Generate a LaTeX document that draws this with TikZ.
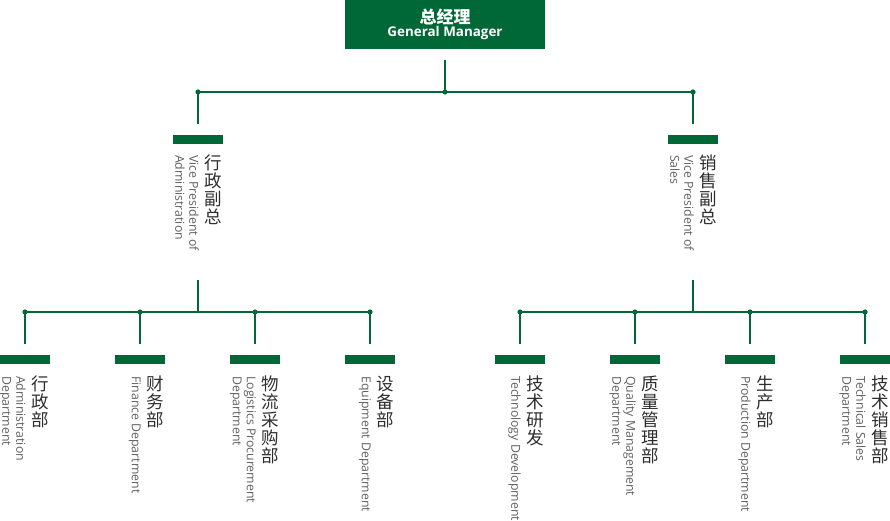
\documentclass[tikz,border=0pt]{standalone}
\usepackage{fontspec}
\setmainfont{Open Sans}
\newfontfamily\cjk{Noto Sans CJK SC}
\usetikzlibrary{positioning}
\definecolor{orggreen}{HTML}{006837}
\definecolor{cntext}{HTML}{2E2E2E}
\definecolor{entext}{HTML}{606060}

\begin{document}
\begin{tikzpicture}[x=1pt, y=-1pt,
   line/.style={orggreen, line width=1.3pt},
   head/.style={rectangle, fill=orggreen, minimum width=200, minimum height=49, inner sep=0, text=white, align=center},
   bar/.style={rectangle, fill=orggreen, minimum width=50, minimum height=9, inner sep=0},
   cn/.style={anchor=north, inner sep=0, align=center, text=cntext, font=\cjk\fontsize{17.5}{17.8}\selectfont},
   en/.style={anchor=north west, rotate=-90, inner sep=0, align=left, text=entext, font=\fontsize{12.3}{14}\selectfont}]
   \useasboundingbox (0,0) rectangle (890,521);

   % general manager
   \node (gm) at (445,24.5) [head] {{\cjk\bfseries\fontsize{17}{18}\selectfont 总经理}\\[0.5pt]{\bfseries\fontsize{13.4}{15}\selectfont General Manager}};

   % vice presidents
   \node (va) at (198,139.5) [bar] {};
   \node (vs) at (693,139.5) [bar] {};
   \node (vacn) at (213.5,155) [cn] {行\\政\\副\\总};
   \node (vaen) at (199,155) [en] {Vice President of\\Administration};
   \node (vscn) at (708.5,155) [cn] {销\\售\\副\\总};
   \node (vsen) at (694,155) [en] {Vice President of\\Sales};

   % departments
   \node (d1) at (25,359.5) [bar] {};
   \node (d2) at (140,359.5) [bar] {};
   \node (d3) at (255,359.5) [bar] {};
   \node (d4) at (370,359.5) [bar] {};
   \node (d5) at (520,359.5) [bar] {};
   \node (d6) at (635,359.5) [bar] {};
   \node (d7) at (750,359.5) [bar] {};
   \node (d8) at (865,359.5) [bar] {};

   \node (d1cn) at (40.5,376) [cn] {行\\政\\部};
   \node (d1en) at (26,376) [en] {Administration\\Department};
   \node (d2cn) at (155.5,376) [cn] {财\\务\\部};
   \node (d2en) at (141,376) [en] {Finance Department};
   \node (d3cn) at (270.5,376) [cn] {物\\流\\采\\购\\部};
   \node (d3en) at (256,376) [en] {Logistics Procurement\\Department};
   \node (d4cn) at (385.5,376) [cn] {设\\备\\部};
   \node (d4en) at (371,376) [en] {Equipment Department};
   \node (d5cn) at (535.5,376) [cn] {技\\术\\研\\发};
   \node (d5en) at (521,376) [en] {Technology Development};
   \node (d6cn) at (650.5,376) [cn] {质\\量\\管\\理\\部};
   \node (d6en) at (636,376) [en] {Quality Management\\Department};
   \node (d7cn) at (765.5,376) [cn] {生\\产\\部};
   \node (d7en) at (751,376) [en] {Production Department};
   \node (d8cn) at (880.5,376) [cn] {技\\术\\销\\售\\部};
   \node (d8en) at (866,376) [en] {Technical Sales\\Department};

   % junctions
   \coordinate (h0) at (445,92);
   \coordinate (ta) at (198,280);
   \coordinate (ts) at (693,280);
   \coordinate (ha) at (198,312);
   \coordinate (hs) at (693,312);

   \draw[line, shorten <=11] (gm) -- (h0);
   \draw[line, shorten >=11] (h0) -| (va);
   \draw[line, shorten >=11] (h0) -| (vs);

   \draw[line] (ta) -- (ha);
   \draw[line, shorten >=11] (ha) -| (d1);
   \draw[line, shorten >=11] (ha) -| (d2);
   \draw[line, shorten >=11] (ha) -| (d3);
   \draw[line, shorten >=11] (ha) -| (d4);

   \draw[line] (ts) -- (hs);
   \draw[line, shorten >=11] (hs) -| (d5);
   \draw[line, shorten >=11] (hs) -| (d6);
   \draw[line, shorten >=11] (hs) -| (d7);
   \draw[line, shorten >=11] (hs) -| (d8);

   \fill[orggreen] (h0) circle (2.6);
   \fill[orggreen] (va |- h0) circle (2.6);
   \fill[orggreen] (vs |- h0) circle (2.6);
   \fill[orggreen] (d1 |- ha) circle (2.6);
   \fill[orggreen] (d2 |- ha) circle (2.6);
   \fill[orggreen] (d3 |- ha) circle (2.6);
   \fill[orggreen] (d4 |- ha) circle (2.6);
   \fill[orggreen] (d5 |- hs) circle (2.6);
   \fill[orggreen] (d6 |- hs) circle (2.6);
   \fill[orggreen] (d7 |- hs) circle (2.6);
   \fill[orggreen] (d8 |- hs) circle (2.6);

\end{tikzpicture}
\end{document}
